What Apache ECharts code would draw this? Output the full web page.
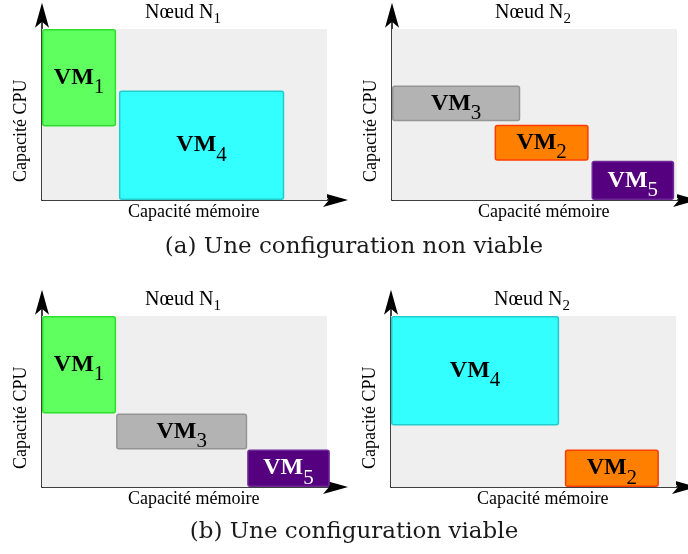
<!DOCTYPE html>
<html>
<head>
<meta charset="utf-8">
<script src="https://cdn.jsdelivr.net/npm/echarts@6/dist/echarts.min.js"></script>
<style>html,body{margin:0;padding:0;background:#fff}#c{width:688px;height:554px}</style>
</head>
<body>
<div id="c"></div>
<script>
// ---- Data ----
const captions = ['(a) Une configuration non viable', '(b) Une configuration viable'];
const nodeNames = ['1', '2', '1', '2'];          // Nœud N<sub>
const xAxisName = 'Capacité mémoire';
const yAxisName = 'Capacité CPU';
const nodeCapacity = [0, 100, 0, 100];           // [mem0, mem1, cpu0, cpu1]
// VM placements per panel: [mem start, mem end, cpu start, cpu end, vm number]
const panelA1 = [[0, 26, 43, 100, 1], [27, 85, 0, 64, 4]];
const panelA2 = [[0, 45, 46, 67, 3], [36, 69, 23, 44, 2], [70, 99, 0, 23, 5]];
const panelB1 = [[0, 26, 43, 100, 1], [26, 72, 22, 43, 3], [72, 101, 0, 22, 5]];
const panelB2 = [[0, 59, 36, 100, 4], [61, 94, 0, 22, 2]];
const panels = [panelA1, panelA2, panelB1, panelB2];

// ---- Styles ----
const vmStyle = {
  1: { fill: '#5fff5f', stroke: '#2de02d', text: '#000' },
  2: { fill: '#ff8000', stroke: '#ff3c00', text: '#000' },
  3: { fill: '#b3b3b3', stroke: '#949494', text: '#000' },
  4: { fill: '#33ffff', stroke: '#22cccc', text: '#000' },
  5: { fill: '#55007f', stroke: '#6e2896', text: '#fff' }
};
const origins = [[42, 200], [392, 200], [42, 487], [391, 487]];
const XMAX = 103, YMAX = 108, XS = 2.85, YS = 1.71;
const serif = '"Liberation Serif", "Times New Roman", serif';
const arrowPath = 'path://M0,0 L7,25 L0,19 L-7,25 Z';

const grids = [], xAxes = [], yAxes = [], series = [], graphics = [];
origins.forEach(function (o, i) {
  const w = XMAX * XS, h = YMAX * YS;
  grids.push({ left: o[0], top: o[1] - h, width: w, height: h });
  xAxes.push({
    type: 'value', gridIndex: i, min: 0, max: XMAX,
    axisLine: { show: true, symbol: ['none', arrowPath], symbolSize: [14, 25], lineStyle: { color: '#000', width: 1.5 } },
    axisTick: { show: false }, axisLabel: { show: false }, splitLine: { show: false },
    name: xAxisName, nameLocation: 'middle', nameGap: 3,
    nameTextStyle: { fontFamily: serif, fontSize: 18, color: '#000', padding: [0, 0, 0, 10] }
  });
  yAxes.push({
    type: 'value', gridIndex: i, min: 0, max: YMAX,
    axisLine: { show: true, symbol: ['none', arrowPath], symbolSize: [14, 25], lineStyle: { color: '#000', width: 1.5 } },
    axisTick: { show: false }, axisLabel: { show: false }, splitLine: { show: false },
    name: yAxisName, nameLocation: 'middle', nameGap: 12,
    nameTextStyle: { fontFamily: serif, fontSize: 18, color: '#000', padding: [0, 46, 0, 0] }
  });
  // node capacity background
  series.push({
    type: 'custom', xAxisIndex: i, yAxisIndex: i, z: 1, silent: true,
    data: [nodeCapacity],
    renderItem: function (params, api) {
      const p0 = api.coord([api.value(0), api.value(3)]);
      const p1 = api.coord([api.value(1), api.value(2)]);
      return { type: 'rect', shape: { x: p0[0], y: p0[1], width: p1[0] - p0[0], height: p1[1] - p0[1] }, style: { fill: '#efefef' } };
    }
  });
  // VMs
  series.push({
    type: 'custom', xAxisIndex: i, yAxisIndex: i, z: 3, silent: true,
    data: panels[i],
    renderItem: function (params, api) {
      const p0 = api.coord([api.value(0), api.value(3)]);
      const p1 = api.coord([api.value(1), api.value(2)]);
      const n = api.value(4);
      const st = vmStyle[n];
      return {
        type: 'rect',
        shape: { x: p0[0] + 0.75, y: p0[1] + 0.75, width: p1[0] - p0[0] - 1.5, height: p1[1] - p0[1] - 1.5, r: 2 },
        style: { fill: st.fill, stroke: st.stroke, lineWidth: 1.5 },
        textContent: {
          style: {
            text: '{b|VM}{s|' + n + '}',
            fill: st.text,
            rich: {
              b: { fontFamily: serif, fontWeight: 'bold', fontSize: 24, fill: st.text, color: st.text },
              s: { fontFamily: serif, fontSize: 21, padding: [20, 0, 0, 0], fill: st.text, color: st.text }
            }
          }
        },
        textConfig: { position: 'inside' }
      };
    }
  });
  // node title
  graphics.push({
    type: 'text', x: o[0] + 141, y: o[1] - 187, z: 10,
    style: {
      text: '{t|Nœud N}{s|' + nodeNames[i] + '}',
      align: 'center', verticalAlign: 'middle',
      rich: {
        t: { fontFamily: serif, fontSize: 20, fill: '#000' },
        s: { fontFamily: serif, fontSize: 15, padding: [12, 0, 0, 0], fill: '#000' }
      }
    }
  });
});
graphics.push({ type: 'text', x: 354, y: 247, style: { text: captions[0], align: 'center', verticalAlign: 'middle', font: '23px "DejaVu Serif"', fill: '#1a1a1a' } });
graphics.push({ type: 'text', x: 354, y: 532, style: { text: captions[1], align: 'center', verticalAlign: 'middle', font: '23px "DejaVu Serif"', fill: '#1a1a1a' } });

const chart = echarts.init(document.getElementById('c'), null, { renderer: 'canvas' });
chart.setOption({
  animation: false,
  grid: grids, xAxis: xAxes, yAxis: yAxes, series: series, graphic: graphics
});
</script>
</body>
</html>
